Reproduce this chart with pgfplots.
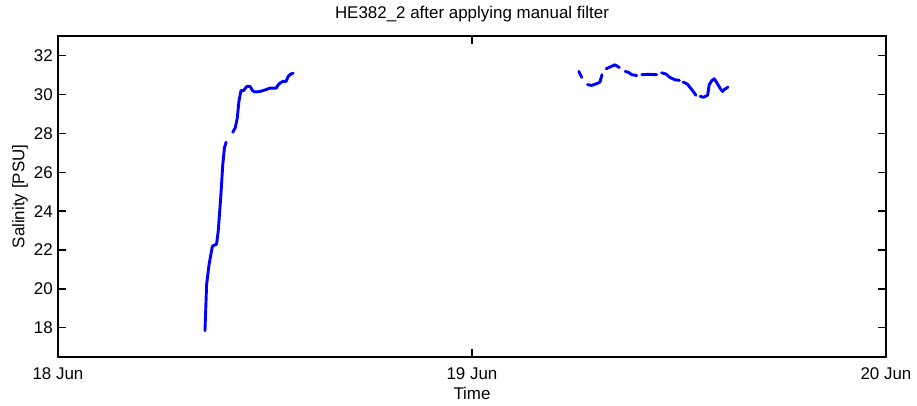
\documentclass[border=0pt]{standalone}
\usepackage{fontspec}
\setmainfont{Liberation Sans}
\usepackage{pgfplots}
\pgfplotsset{compat=1.18}
\begin{document}
\begin{tikzpicture}
\begin{axis}[
  name=ax,
  scale only axis,
  width=828bp, height=321bp,
  xmin=0, xmax=2, ymin=16.5, ymax=33,
  xtick={0,1,2}, xticklabels={18 Jun,19 Jun,20 Jun},
  ytick={18,20,22,24,26,28,30,32},
  tick align=inside,
  major tick length=8bp,
  axis line style={line width=1.5bp, black},
  every tick/.style={line width=1.3bp, black},
  /pgf/number format/assume math mode=true,
  tick label style={font=\fontsize{17}{20}\selectfont},
  xticklabel style={anchor=north, inner sep=0pt, yshift=-10bp},
  yticklabel style={anchor=east, inner sep=0pt, xshift=-5bp},
  xlabel={Time},
  ylabel={Salinity [PSU]},
  title={HE382\_2 after applying manual filter},
  label style={font=\fontsize{17}{20}\selectfont},
  xlabel style={at={(axis description cs:0.5,0)}, anchor=base, yshift=-42bp, inner sep=0pt},
  ylabel style={at={(axis description cs:-0.0405,0.5)}, anchor=base, inner sep=0pt},
  title style={at={(axis description cs:0.5,1.0374)}, anchor=base, inner sep=0pt, font=\fontsize{17}{20}\selectfont},
  unbounded coords=jump,
  clip=false,
]
\addplot[blue, line width=2.9bp, line join=round, line cap=round] coordinates {
(0.355,17.85) (0.359,20.24) (0.365,21.27) (0.373,22.20) (0.383,22.30)
(0.387,22.97) (0.393,24.68) (0.398,26.39) (0.402,27.25) (0.406,27.54)
(0.414,nan)
(0.422,28.05) (0.428,28.27) (0.433,28.78) (0.437,29.64) (0.442,30.19)
(0.448,30.19) (0.456,30.41) (0.464,30.41) (0.470,30.19) (0.476,30.12)
(0.488,30.15) (0.502,30.24) (0.512,30.32) (0.527,30.32) (0.531,30.46)
(0.536,30.58) (0.544,30.67) (0.551,30.67) (0.556,30.92) (0.562,31.04)
(0.568,31.09)
};
\addplot[blue, line width=2.9bp, line join=round, line cap=round] coordinates {
(1.258,31.18) (1.265,30.87)
(1.272,nan)
(1.279,30.50) (1.289,30.46) (1.301,30.55) (1.309,30.63) (1.314,31.01)
(1.319,nan)
(1.324,31.32) (1.333,31.40) (1.345,31.52) (1.356,31.38)
(1.363,nan)
(1.370,31.18) (1.378,31.13) (1.386,31.01) (1.398,30.97)
(1.404,nan)
(1.410,31.01) (1.426,31.03) (1.446,31.01)
(1.452,nan)
(1.458,31.11) (1.469,31.04) (1.478,30.87) (1.490,30.75) (1.501,30.72)
(1.505,nan)
(1.510,30.63) (1.520,30.53) (1.531,30.24) (1.541,29.95)
(1.546,nan)
(1.551,29.90) (1.559,29.85) (1.569,29.95) (1.573,30.50) (1.579,30.70)
(1.585,30.80) (1.592,30.58) (1.599,30.32) (1.605,30.15) (1.609,30.24)
(1.618,30.37)
};
\end{axis}
\pgfresetboundingbox
\useasboundingbox ([xshift=-58bp,yshift=-49bp]ax.south west) rectangle ([xshift=31bp,yshift=36bp]ax.north east);
\end{tikzpicture}
\end{document}
